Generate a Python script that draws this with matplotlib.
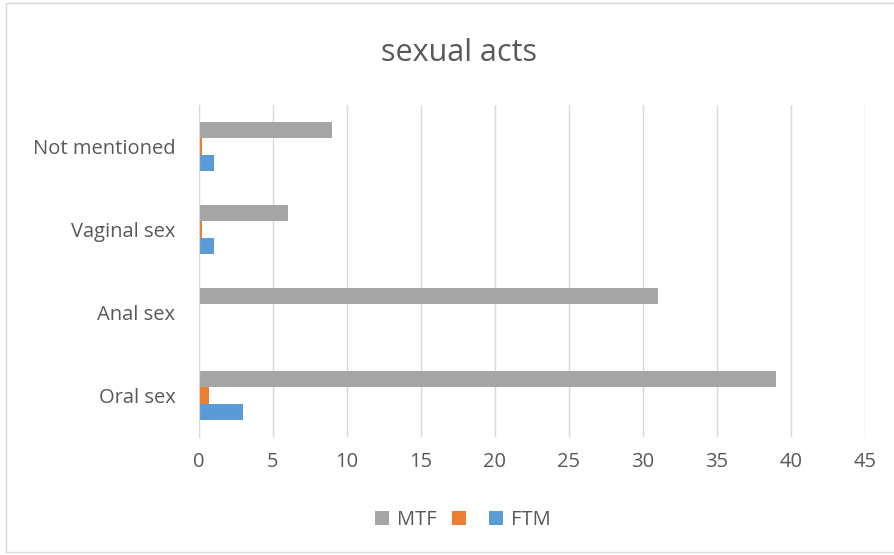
import matplotlib.pyplot as plt
import numpy as np
from matplotlib.patches import Rectangle

plt.rcParams['font.family'] = ['Open Sans', 'DejaVu Sans']

categories = ['Oral sex', 'Anal sex', 'Vaginal sex', 'Not mentioned']
mtf = [39, 31, 6, 9]
other = [0.7, 0, 0.2, 0.2]
ftm = [3, 0, 1, 1]
series_labels = ['MTF', '', 'FTM']
xticks = [0, 5, 10, 15, 20, 25, 30, 35, 40, 45]

text_col = '#595959'
grid_col = '#d9d9d9'

fig = plt.figure(figsize=(8.95, 5.55), dpi=100)
ax = fig.add_axes([199 / 895, 1 - 437 / 555, (865 - 199) / 895, (437 - 105) / 555])

y = np.arange(len(categories))
h = 0.2
b_ftm = ax.barh(y - h, ftm, height=h, color='#5b9bd5')
b_oth = ax.barh(y, other, height=h, color='#ed7d31')
b_mtf = ax.barh(y + h, mtf, height=h, color='#a5a5a5')

ax.set_xlim(0, 45)
ax.set_ylim(-0.5, 3.5)
ax.set_xticks(xticks)
ax.set_yticks(y)
ax.set_yticklabels(categories)
ax.tick_params(length=0, labelsize=14.5, colors=text_col)
ax.tick_params(axis='x', pad=11)
ax.tick_params(axis='y', pad=17)
ax.grid(axis='x', color=grid_col, linewidth=1)
ax.set_axisbelow(True)
for s in ['top', 'right', 'bottom']:
    ax.spines[s].set_visible(False)
ax.spines['left'].set_color(grid_col)

fig.text(459 / 895, 1 - 53 / 555, 'sexual acts', ha='center', va='center',
         fontsize=22, color=text_col)

leg = fig.legend(handles=[b_mtf, b_oth, b_ftm], labels=series_labels,
                 loc='center', bbox_to_anchor=(0.517, 1 - 520 / 555), ncol=3,
                 frameon=False, fontsize=14.5, handlelength=0.7, handleheight=0.7,
                 columnspacing=0.75, handletextpad=0.4)
for t in leg.get_texts():
    t.set_color(text_col)

fig.patches.append(Rectangle((6 / 895, 3 / 555), 1.0, 1 - 6 / 555,
                             transform=fig.transFigure, fill=False,
                             edgecolor=grid_col, linewidth=1))

fig.savefig('out.png', dpi=100)
